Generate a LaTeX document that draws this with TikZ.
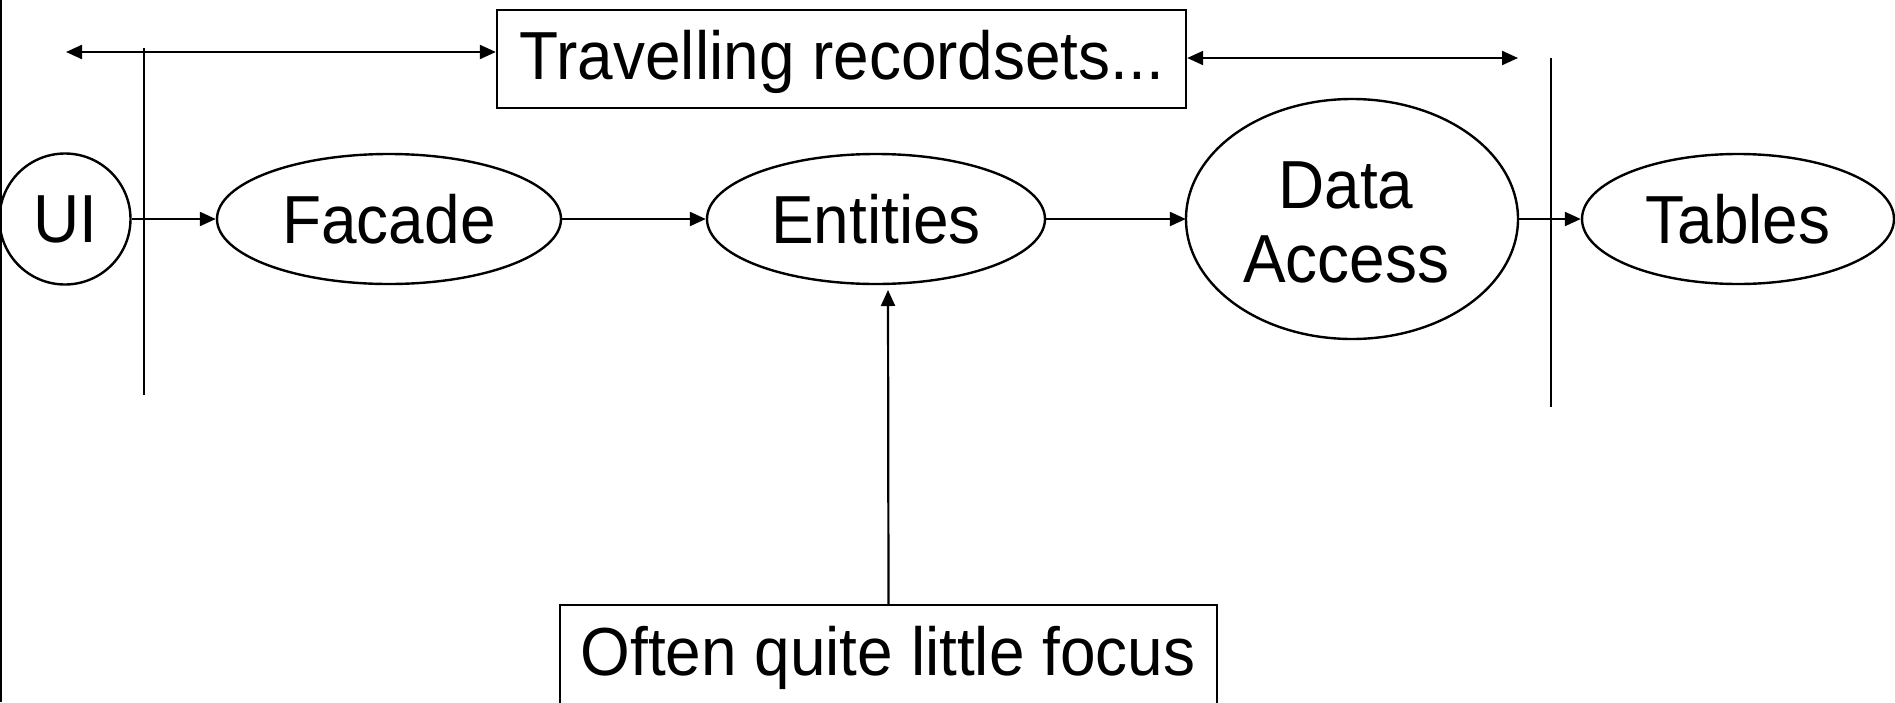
\documentclass[tikz,border=0pt]{standalone}
\usepackage{fontspec}
\setmainfont{Liberation Sans}[FakeStretch=0.94]
\usetikzlibrary{arrows.meta,shapes.geometric}
\begin{document}
\begin{tikzpicture}[x=1pt,y=-1pt,
  every node/.style={font=\fontsize{68}{74}\selectfont, inner sep=0pt},
  ell/.style={draw, ellipse, line width=2.4pt},
  rbox/.style={draw, rectangle, line width=2.4pt},
  conn/.style={line width=2.2pt, -{Triangle[length=16pt,width=14pt]}},
  dconn/.style={line width=2.2pt, {Triangle[length=16pt,width=14pt]}-{Triangle[length=16pt,width=14pt]}},
  sep/.style={line width=2.2pt}]
\useasboundingbox (0,0) rectangle (1895,702);
\fill[white] (0,0) rectangle (1895,702);
\draw[line width=2.5pt] (1,0) -- (1,702);
% nodes
\node[ell, minimum width=131pt, minimum height=131pt] (ui) at (65,219) {};
\node (uitxt) at (ui) {UI};
\node[ell, minimum width=344pt, minimum height=130pt] (facade) at (389,219) {};
\node (facadetxt) at (facade) {Facade};
\node[ell, minimum width=338pt, minimum height=130pt] (ent) at (876,219) {};
\node (enttxt) at (ent) {Entities};
\node[ellipse, minimum width=332pt, minimum height=240pt] (da) at (1352,219) {};
\draw[line width=2.4pt] (da.center) ellipse [x radius=166, y radius=120];
\node[align=center] (datxt) at (1346,222) {Data\\Access};
\node[ell, minimum width=312pt, minimum height=130pt] (tab) at (1738,219) {};
\node (tabtxt) at (tab) {Tables};
\node[rbox, minimum width=689pt, minimum height=98pt] (trav) at (841.5,59) {};
\node (travtxt) at (842,62) {Travelling recordsets...};
\node[rbox, minimum width=657pt, minimum height=200pt, anchor=north] (focus) at (888.5,604) {};
\node (focustxt) at (888,658) {Often quite little focus};
% separators
\coordinate (s1t) at (144,48);
\coordinate (s1b) at (144,395);
\coordinate (s2t) at (1551,58);
\coordinate (s2b) at (1551,407);
\draw[sep] (s1t) -- (s1b);
\draw[sep] (s2t) -- (s2b);
% top arrows
\coordinate (la) at (66,52);
\coordinate (ra) at (1518,58);
\draw[dconn] (la) -- (la -| trav.west);
\draw[dconn] (ra -| trav.east) -- (ra);
% chain
\draw[conn] (ui) -- (facade);
\draw[conn] (facade) -- (ent);
\draw[conn] (ent) -- (da);
\draw[conn] (da) -- (tab);
% focus arrow
\coordinate (ftip) at (888,290);
\draw[conn] (focus.north) -- (ftip);
\end{tikzpicture}
\end{document}
